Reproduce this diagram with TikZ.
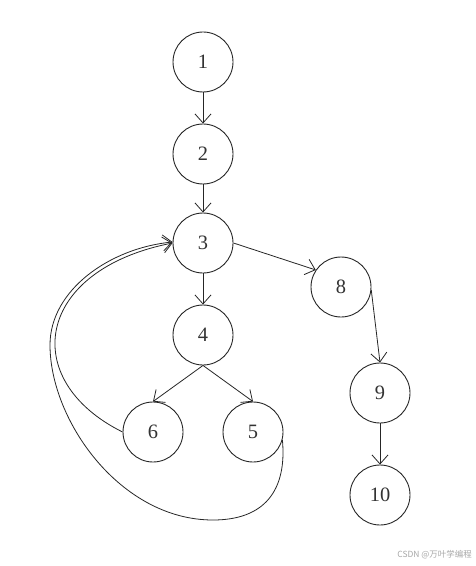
\documentclass[tikz,border=0pt]{standalone}
\usepackage{fontspec}
\newfontfamily\cjkfont{Noto Sans CJK SC}
\newfontfamily\numfont{Liberation Serif}
\usetikzlibrary{arrows.meta}
\begin{document}
\begin{tikzpicture}[x=1bp,y=1bp,
  vert/.style={circle,draw=black!85,line width=0.9bp,minimum size=60bp,inner sep=0pt,text=black!80,font=\numfont\fontsize{20.5}{22}\selectfont},
  edge/.style={draw=black!85,line width=0.8bp,-{Straight Barb[length=9bp,width=16bp]}},
  wm/.style={font=\cjkfont\fontsize{8.5}{10}\selectfont,text=black!35,anchor=east,inner sep=0pt}]
\useasboundingbox (0,0) rectangle (476,-566);
\node[vert] (n1) at (203,-62) {1};
\node[vert] (n2) at (203,-154) {2};
\node[vert] (n3) at (203,-243) {3};
\node[vert] (n4) at (203,-335) {4};
\node[vert] (n6) at (153,-432) {6};
\node[vert] (n5) at (253,-432) {5};
\node[vert] (n8) at (341,-287) {8};
\node[vert] (n9) at (380,-393) {9};
\node[vert] (n10) at (380,-495) {10};
\draw[edge] (n1) -- (n2);
\draw[edge] (n2) -- (n3);
\draw[edge] (n3) -- (n4);
\draw[edge] (n4.south) -- (n6.north);
\draw[edge] (n4.south) -- (n5.north);
\draw[edge] (n3.east) -- (n8.146);
\draw[edge] (n8.-6) -- (n9.north);
\draw[edge] (n9) -- (n10);
\draw[edge] (n6.west) .. controls (18,-380) and (35,-270) .. (n3.west);
\coordinate (b1) at (213,-520);
\coordinate (b2) at (50,-345);
\draw[edge] (n5.-15) .. controls (287,-490) and (265,-520) .. (b1)
  .. controls (120,-520) and (50,-420) .. (b2)
  .. controls (50,-290) and (110,-248) .. ([yshift=1bp]n3.west);
\node[wm] (wm) at (472,-555) {CSDN @万叶学编程};
\end{tikzpicture}
\end{document}
